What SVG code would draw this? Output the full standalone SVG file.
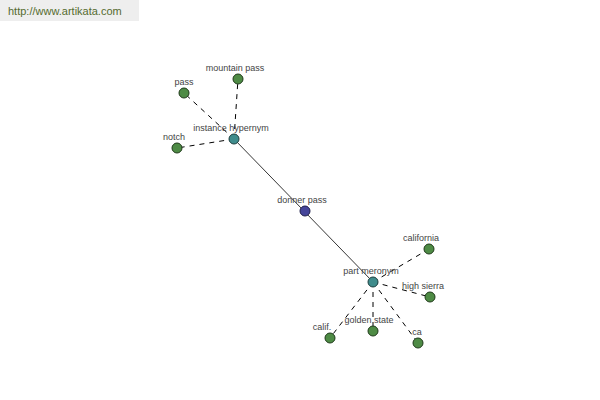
<svg xmlns="http://www.w3.org/2000/svg" width="600" height="400" viewBox="0 0 600 400">
<style>
text{font-family:"Liberation Sans",Arial,sans-serif;font-size:9px;fill:#444;text-anchor:middle}
.leaf{fill:#4e8b45;stroke:#1f3a1a;stroke-width:1}
.hub{fill:#3f8c8c;stroke:#1d3f3f;stroke-width:1}
.root{fill:#45459a;stroke:#1e1e4a;stroke-width:1}
.dash{stroke:#000;stroke-width:1;stroke-dasharray:5,5;fill:none}
.solid{stroke:#000;stroke-width:0.8;fill:none}
</style>
<rect x="0" y="0" width="139" height="21" fill="#eeeeee"/>
<text x="8" y="15" style="text-anchor:start;font-size:11px;fill:#556b2f">http://www.artikata.com</text>
<g id="connectors">
<line class="solid" x1="234" y1="139" x2="373" y2="282"/>
<line class="dash" x1="234" y1="139" x2="184" y2="93"/>
<line class="dash" x1="234" y1="139" x2="238" y2="79"/>
<line class="dash" x1="234" y1="139" x2="177" y2="148"/>
<line class="dash" x1="373" y1="282" x2="429" y2="249"/>
<line class="dash" x1="373" y1="282" x2="430" y2="297"/>
<line class="dash" x1="373" y1="282" x2="330" y2="338"/>
<line class="dash" x1="373" y1="282" x2="373" y2="331"/>
<line class="dash" x1="373" y1="282" x2="418" y2="343"/>
</g>
<g id="donner-pass"><circle class="root" cx="305" cy="211" r="5"/><text x="302" y="203">donner pass</text></g>
<g id="instance-hypernym"><circle class="hub" cx="234" cy="139" r="5"/><text x="231" y="131">instance hypernym</text></g>
<g id="part-meronym"><circle class="hub" cx="373" cy="282" r="5"/><text x="371" y="274">part meronym</text></g>
<g id="pass"><circle class="leaf" cx="184" cy="93" r="5"/><text x="184" y="85">pass</text></g>
<g id="mountain-pass"><circle class="leaf" cx="238" cy="79" r="5"/><text x="235" y="71">mountain pass</text></g>
<g id="notch"><circle class="leaf" cx="177" cy="148" r="5"/><text x="174" y="140">notch</text></g>
<g id="california"><circle class="leaf" cx="429" cy="249" r="5"/><text x="421" y="241">california</text></g>
<g id="high-sierra"><circle class="leaf" cx="430" cy="297" r="5"/><text x="423" y="289">high sierra</text></g>
<g id="calif"><circle class="leaf" cx="330" cy="338" r="5"/><text x="322" y="330">calif.</text></g>
<g id="golden-state"><circle class="leaf" cx="373" cy="331" r="5"/><text x="369" y="323">golden state</text></g>
<g id="ca"><circle class="leaf" cx="418" cy="343" r="5"/><text x="417" y="335">ca</text></g>
</svg>
